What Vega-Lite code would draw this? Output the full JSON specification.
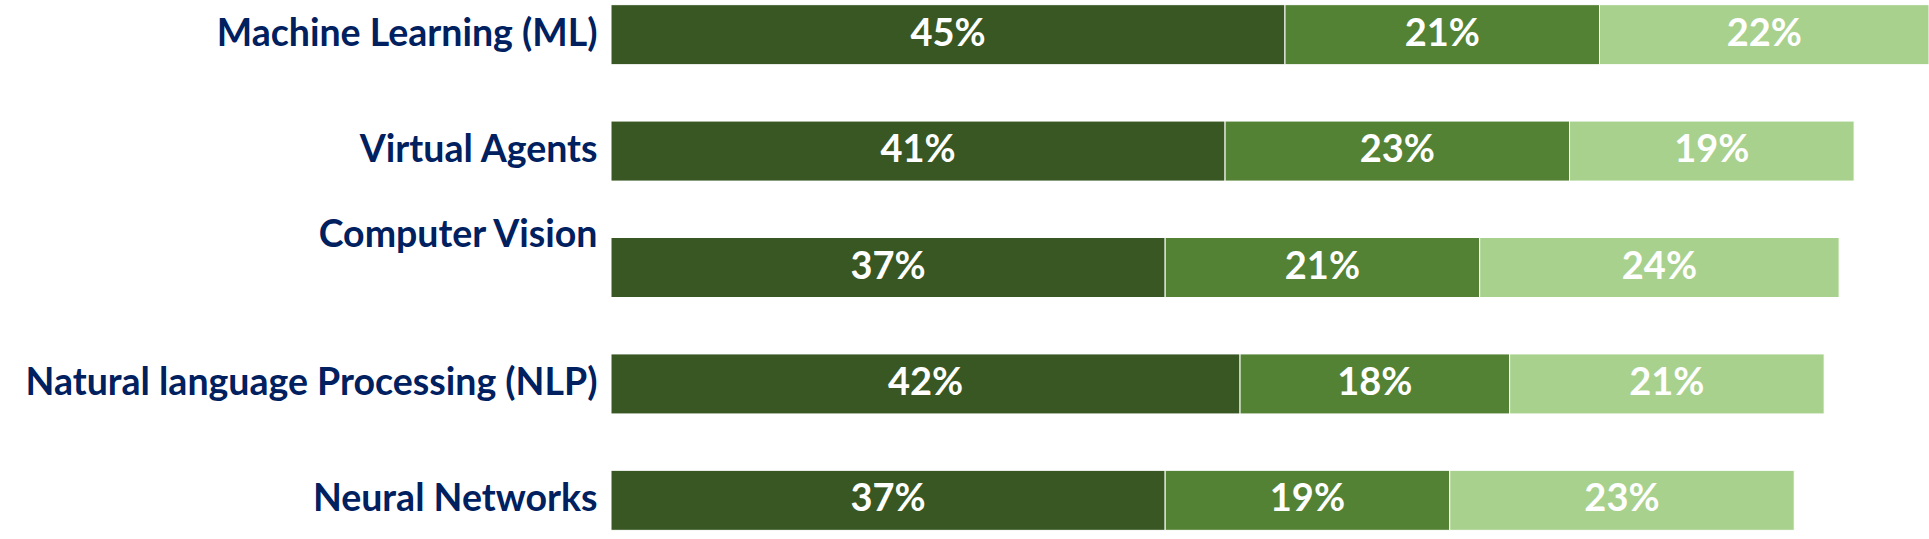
{
  "$schema": "https://vega.github.io/schema/vega-lite/v6.json",
  "autosize": "none",
  "width": 1318,
  "height": 535,
  "padding": {"left": 611, "top": 0, "right": 0, "bottom": 4},
  "background": "white",
  "config": {"view": {"stroke": null}},
  "data": {
    "values": [
      {"category": "Machine Learning (ML)", "series": "Series 1", "value": 0.45},
      {"category": "Machine Learning (ML)", "series": "Series 2", "value": 0.21},
      {"category": "Machine Learning (ML)", "series": "Series 3", "value": 0.22},
      {"category": "Virtual Agents", "series": "Series 1", "value": 0.41},
      {"category": "Virtual Agents", "series": "Series 2", "value": 0.23},
      {"category": "Virtual Agents", "series": "Series 3", "value": 0.19},
      {"category": "Computer Vision", "series": "Series 1", "value": 0.37},
      {"category": "Computer Vision", "series": "Series 2", "value": 0.21},
      {"category": "Computer Vision", "series": "Series 3", "value": 0.24},
      {"category": "Natural language Processing (NLP)", "series": "Series 1", "value": 0.42},
      {"category": "Natural language Processing (NLP)", "series": "Series 2", "value": 0.18},
      {"category": "Natural language Processing (NLP)", "series": "Series 3", "value": 0.21},
      {"category": "Neural Networks", "series": "Series 1", "value": 0.37},
      {"category": "Neural Networks", "series": "Series 2", "value": 0.19},
      {"category": "Neural Networks", "series": "Series 3", "value": 0.23}
    ]
  },
  "encoding": {
    "y": {
      "field": "category",
      "type": "nominal",
      "sort": ["Machine Learning (ML)", "Virtual Agents", "Computer Vision", "Natural language Processing (NLP)", "Neural Networks"],
      "scale": {"paddingInner": 0.4845, "paddingOuter": 0.04},
      "axis": {
        "title": null,
        "domain": false,
        "ticks": false,
        "labelPadding": 14,
        "labelFont": "Lato",
        "labelFontSize": 37.5,
        "labelFontWeight": "bold",
        "labelColor": "#002060",
        "labelLimit": 0,
        "labelOffset": {"condition": {"test": "datum.value == 'Computer Vision'", "value": -32}, "value": 0}
      }
    }
  },
  "layer": [
    {
      "mark": {"type": "bar", "stroke": "white", "strokeWidth": 1},
      "encoding": {
        "x": {"field": "value", "type": "quantitative", "stack": "zero", "scale": {"domain": [0, 0.88], "nice": false, "zero": true}, "axis": null},
        "color": {
          "field": "series",
          "type": "nominal",
          "scale": {"domain": ["Series 1", "Series 2", "Series 3"], "range": ["#385723", "#548235", "#A9D18E"]},
          "legend": null
        },
        "order": {"field": "series", "sort": "ascending"}
      }
    },
    {
      "transform": [
        {"stack": "value", "groupby": ["category"], "sort": [{"field": "series", "order": "ascending"}], "as": ["v0", "v1"]},
        {"fold": ["v0", "v1"], "as": ["edge", "pos"]},
        {"aggregate": [{"op": "mean", "field": "pos", "as": "mid"}], "groupby": ["category", "series", "value"]}
      ],
      "mark": {"type": "text", "font": "Lato", "fontSize": 38, "fontWeight": "bold", "color": "white", "align": "center", "baseline": "middle"},
      "encoding": {
        "x": {"field": "mid", "type": "quantitative", "stack": null},
        "text": {"field": "value", "type": "quantitative", "format": ".0%"}
      }
    }
  ]
}
